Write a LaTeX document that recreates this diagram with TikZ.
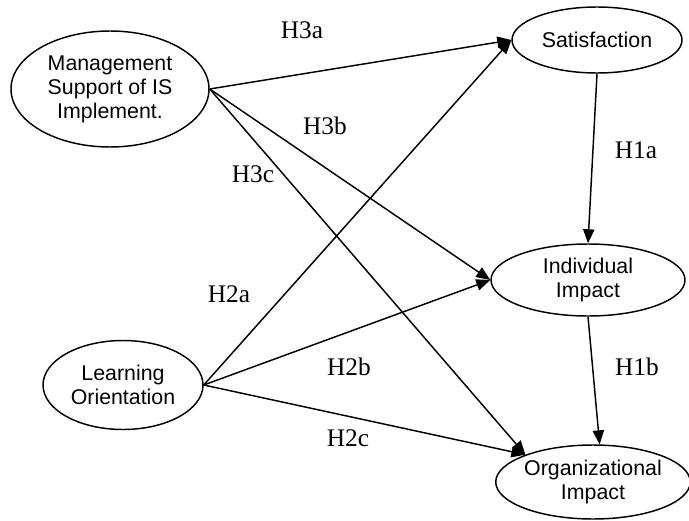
\documentclass[tikz,border=0pt]{standalone}
\usepackage{fontspec}
\setmainfont{Liberation Serif}
\newfontfamily\nodefont{Liberation Sans}
\usetikzlibrary{shapes.geometric,arrows.meta}
\tikzset{
  construct/.style={draw, line width=1.1pt, ellipse, inner sep=0pt, align=center,
    font=\nodefont\fontsize{16}{18}\selectfont},
  path/.style={draw, line width=1.1pt, -{Triangle[length=10.5pt,width=8.5pt]}},
  hyp/.style={font=\fontsize{19}{22}\selectfont, inner sep=0pt}
}
\begin{document}
\begin{tikzpicture}[x=0.75pt,y=-0.75pt]
\useasboundingbox (0,0) rectangle (689,521);
\node[construct, minimum width=148.5pt, minimum height=87pt] (mgmt) at (110,89) {Management\\Support of IS\\Implement.};
\node[construct, minimum width=127.5pt, minimum height=49.5pt] (sat) at (597,40) {Satisfaction};
\node[construct, minimum width=145.5pt, minimum height=54pt] (ind) at (588,280) {Individual\\Impact};
\node[construct, minimum width=120pt, minimum height=66.75pt] (learn) at (123,385) {Learning\\Orientation};
\node[construct, minimum width=142.5pt, minimum height=55.5pt] (org) at (593,482) {Organizational\\Impact};

\draw[path] (mgmt.east) -- (sat.west);
\draw[path] (mgmt.east) -- (ind.west);
\draw[path] (mgmt.east) -- (org.158);
\draw[path] (learn.east) -- (sat.west);
\draw[path] (learn.east) -- (ind.west);
\draw[path] (learn.east) -- (org.158);
\draw[path] (sat.south) -- (ind.north);
\draw[path] (ind.south) -- (org.80);

\node[hyp] (h3a) at (302,30) {H3a};
\node[hyp] (h3b) at (325,126) {H3b};
\node[hyp] (h3c) at (253,174) {H3c};
\node[hyp] (h1a) at (636,150) {H1a};
\node[hyp] (h2a) at (229,294) {H2a};
\node[hyp] (h2b) at (349,367) {H2b};
\node[hyp] (h1b) at (637,367) {H1b};
\node[hyp] (h2c) at (348,438) {H2c};
\end{tikzpicture}
\end{document}
